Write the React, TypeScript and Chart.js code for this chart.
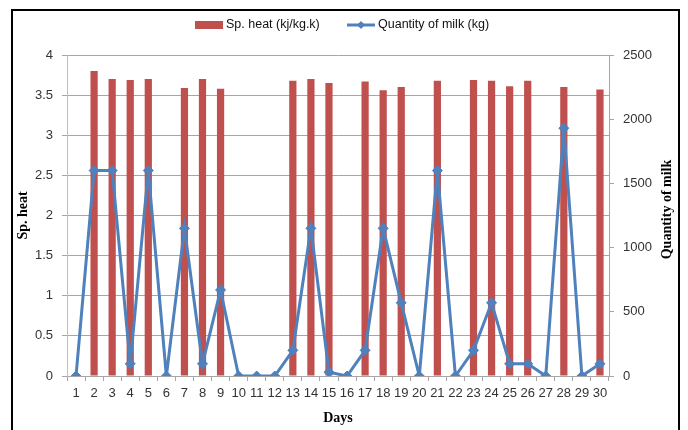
import React, { useEffect, useRef } from "react";
import { Chart, registerables } from "chart.js";

Chart.register(...registerables);

const days = ["1","2","3","4","5","6","7","8","9","10","11","12","13","14","15","16","17","18","19","20","21","22","23","24","25","26","27","28","29","30"];
const spHeat: (number | null)[] = [null, 3.8, 3.7, 3.69, 3.7, null, 3.59, 3.7, 3.58, null, null, null, 3.68, 3.7, 3.65, null, 3.67, 3.56, 3.6, null, 3.68, null, 3.69, 3.68, 3.61, 3.68, null, 3.6, null, 3.57];
const milk: number[] = [0, 1600, 1600, 95, 1600, 0, 1150, 95, 670, 0, 0, 0, 200, 1150, 30, 0, 200, 1150, 570, 0, 1600, 0, 200, 570, 95, 95, 0, 1930, 0, 95];

const barLabel = "Sp. heat (kj/kg.k)";
const lineLabel = "Quantity of milk (kg)";
const leftTitle = "Sp. heat";
const rightTitle = "Quantity of milk";
const xTitle = "Days";

const RED = "#C0504D";
const BLUE = "#4F81BD";
const GRID = "#A6A6A6";
const TICK = "#333333";

const overlay = {
  id: "overlay",
  afterDraw(chart: any) {
    const ctx = chart.ctx as CanvasRenderingContext2D;
    const ca = chart.chartArea;
    ctx.save();
    // legend
    ctx.font = "12.5px 'Liberation Sans', sans-serif";
    ctx.textBaseline = "middle";
    ctx.textAlign = "left";
    ctx.fillStyle = RED;
    ctx.fillRect(195, 21, 28, 8);
    ctx.fillStyle = "#111";
    ctx.fillText(barLabel, 226, 25);
    ctx.strokeStyle = BLUE;
    ctx.lineWidth = 3;
    ctx.beginPath();
    ctx.moveTo(347, 25);
    ctx.lineTo(375, 25);
    ctx.stroke();
    ctx.fillStyle = BLUE;
    ctx.beginPath();
    ctx.moveTo(361, 21);
    ctx.lineTo(365, 25);
    ctx.lineTo(361, 29);
    ctx.lineTo(357, 25);
    ctx.closePath();
    ctx.fill();
    ctx.fillStyle = "#111";
    ctx.fillText(lineLabel, 378, 25);

    // axis titles
    ctx.font = "bold 14px 'Liberation Serif', serif";
    ctx.fillStyle = "#000";
    ctx.textAlign = "center";
    const midY = (ca.top + ca.bottom) / 2;
    ctx.save();
    ctx.translate(23, midY);
    ctx.rotate(-Math.PI / 2);
    ctx.fillText(leftTitle, 0, 0);
    ctx.restore();
    ctx.save();
    ctx.translate(667, midY - 6);
    ctx.rotate(-Math.PI / 2);
    ctx.fillText(rightTitle, 0, 0);
    ctx.restore();
    ctx.fillText(xTitle, (ca.left + ca.right) / 2, 418);
    ctx.restore();
  },
};

const plainTick = (v: any) => String(v);

export default function App() {
  const ref = useRef<HTMLCanvasElement | null>(null);
  useEffect(() => {
    if (!ref.current) return;
    const chart = new Chart(ref.current, {
      type: "bar",
      data: {
        labels: days,
        datasets: [
          {
            type: "line",
            label: lineLabel,
            data: milk,
            yAxisID: "y1",
            borderColor: BLUE,
            backgroundColor: BLUE,
            borderWidth: 3,
            pointStyle: "rectRot",
            pointRadius: 5,
            pointBackgroundColor: BLUE,
            pointBorderColor: BLUE,
            pointBorderWidth: 1,
            tension: 0,
            order: 0,
          } as any,
          {
            type: "bar",
            label: barLabel,
            data: spHeat,
            yAxisID: "y",
            backgroundColor: RED,
            borderWidth: 0,
            barPercentage: 0.4,
            categoryPercentage: 1,
            order: 1,
          } as any,
        ],
      },
      options: {
        responsive: false,
        animation: false,
        devicePixelRatio: 1,
        layout: { padding: { top: 55, left: 0, right: 0, bottom: 0 } },
        plugins: { legend: { display: false }, tooltip: { enabled: false } },
        scales: {
          x: {
            offset: true,
            grid: {
              display: true,
              offset: true,
              drawOnChartArea: false,
              drawTicks: true,
              tickLength: 5,
              color: GRID,
            },
            border: { display: true, color: GRID },
            ticks: {
              color: TICK,
              font: { family: "'Liberation Sans', sans-serif", size: 13 },
              padding: 5,
              maxRotation: 0,
              autoSkip: false,
            },
            afterFit(scale: any) {
              scale.height = 54;
            },
          },
          y: {
            position: "left",
            min: 0,
            max: 4,
            grid: { color: GRID, tickLength: 5, drawTicks: true },
            border: { display: true, color: "#BFBFBF" },
            ticks: {
              stepSize: 0.5,
              color: TICK,
              padding: 9,
              font: { family: "'Liberation Sans', sans-serif", size: 13 },
              callback: plainTick,
            },
            afterFit(scale: any) {
              scale.width = 67;
            },
          },
          y1: {
            position: "right",
            min: 0,
            max: 2500,
            grid: { drawOnChartArea: false, color: GRID, tickLength: 5, drawTicks: true },
            border: { display: true, color: "#A6A6A6" },
            ticks: {
              stepSize: 500,
              color: TICK,
              padding: 9,
              font: { family: "'Liberation Sans', sans-serif", size: 13 },
              callback: plainTick,
            },
            afterFit(scale: any) {
              scale.width = 79;
            },
          },
        },
      },
      plugins: [overlay],
    });
    return () => chart.destroy();
  }, []);

  return (
    <div style={{ position: "fixed", left: 0, top: 0, width: 688, height: 430, background: "#fff", overflow: "hidden" }}>
      <div
        style={{
          position: "absolute",
          left: 11,
          top: 9,
          width: 669,
          height: 500,
          border: "2px solid #000",
          boxSizing: "border-box",
        }}
      />
      <canvas ref={ref} width={688} height={430} style={{ position: "absolute", left: 0, top: 0, width: 688, height: 430 }} />
    </div>
  );
}
